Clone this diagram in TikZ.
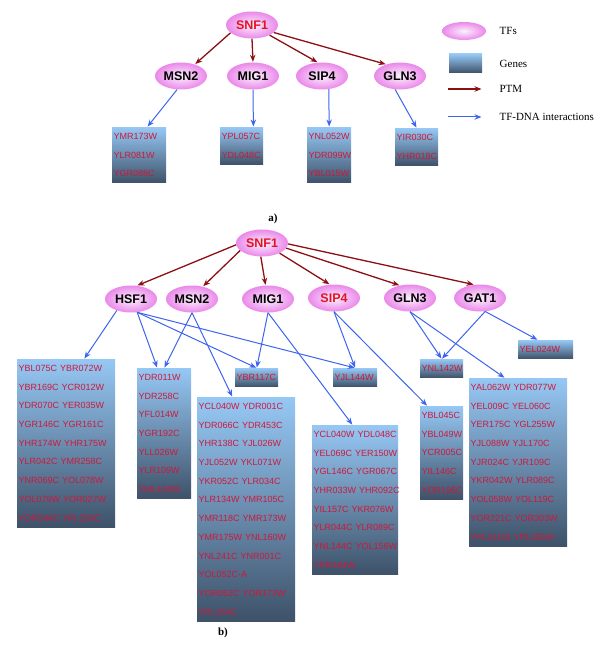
\documentclass[tikz,border=0pt]{standalone}
\usepackage{fontspec}
\setmainfont{Liberation Serif}
\setsansfont{Liberation Sans}
\usetikzlibrary{arrows.meta,positioning,shapes.geometric}

\definecolor{tfpink}{RGB}{234,136,234}
\definecolor{tfred}{RGB}{225,20,35}
\definecolor{genered}{RGB}{205,25,60}
\definecolor{genetop}{RGB}{150,200,245}
\definecolor{genebot}{RGB}{62,82,105}
\definecolor{ptmred}{RGB}{140,15,20}
\definecolor{dnablue}{RGB}{60,100,240}

\tikzset{
  tf/.style={ellipse,minimum width=52pt,minimum height=27pt,inner sep=0pt,
    shading=radial,inner color=tfpink!12!white,outer color=tfpink,
    font=\sffamily\bfseries\fontsize{12.5}{14}\selectfont},
  genes/.style={rectangle,anchor=north west,top color=genetop,bottom color=genebot,
    inner xsep=1.5pt,inner ysep=6pt,align=left,text=genered,
    font=\sffamily\fontsize{9}{18.7}\selectfont},
  ptm/.style={draw=ptmred,line width=1.3pt},
  tfdna/.style={draw=dnablue,line width=1pt},
  legtext/.style={anchor=west,font=\fontsize{11}{13}\selectfont},
  panel/.style={font=\bfseries\fontsize{11}{13}\selectfont}
}

\begin{document}
\begin{tikzpicture}[x=1pt,y=-1pt,->,>={Stealth[length=7pt,width=5.5pt]},shorten >=0.5pt]
  \useasboundingbox (0,0) rectangle (600,652);

  % a)
  \node[tf,text=tfred] (snfA) at (252,25) {SNF1};
  \node[tf] (msn2A) at (181,76) {MSN2};
  \node[tf] (mig1A) at (253,76) {MIG1};
  \node[tf] (sip4A) at (322,76) {SIP4};
  \node[tf] (gln3A) at (400,76) {GLN3};

  \node[genes,text width=51pt] (gMsn2A) at (112,127) {YMR173W\\YLR081W\\YGR088C};
  \node[genes,text width=40pt] (gMig1A) at (220,127) {YPL057C\\YDL048C};
  \node[genes,text width=41pt] (gSip4A) at (307,127) {YNL052W\\YDR099W\\YBL015W};
  \node[genes,text width=40pt] (gGln3A) at (395,128) {YIR030C\\YHR018C};

  \draw[ptm] (snfA.200) -- (msn2A.40);
  \draw[ptm] (snfA.south) -- (mig1A.north);
  \draw[ptm] (snfA.330) -- (sip4A.107);
  \draw[ptm] (snfA.341) -- (gln3A.140);

  \draw[tfdna] (msn2A.254) -- (gMsn2A.74);
  \draw[tfdna] (mig1A.south) -- (gMig1A.58);
  \draw[tfdna] (sip4A.297) -- (gSip4A.north);
  \draw[tfdna] (gln3A.250) -- (gGln3A.north);

  % legend
  \node[tf,minimum width=44pt,minimum height=18pt] (legTF) at (464,31) {};
  \node[legtext,right=10pt of legTF] (legTFtext) {TFs};
  \node[genes,anchor=center,minimum width=33pt,minimum height=19pt,inner sep=0pt] (legGenes) at (465.5,63.5) {};
  \node[legtext,right=14pt of legGenes] (legGenestext) {Genes};
  \node[legtext] (legPtm) at (496,89) {PTM};
  \node[legtext] (legDna) at (496,117) {TF-DNA interactions};
  \coordinate (legPtmS) at (448,89);
  \coordinate (legPtmE) at (482,89);
  \coordinate (legDnaS) at (448,117);
  \coordinate (legDnaE) at (482,117);
  \draw[ptm] (legPtmS) -- (legPtmE);
  \draw[tfdna] (legDnaS) -- (legDnaE);

  \node[panel] (labA) at (273,219) {a)};

  % b)
  \node[tf,text=tfred] (snfB) at (262,243) {SNF1};
  \node[tf] (hsf1B) at (131,299) {HSF1};
  \node[tf] (msn2B) at (192,299) {MSN2};
  \node[tf] (mig1B) at (268,299) {MIG1};
  \node[tf,text=tfred] (sip4B) at (334,298) {SIP4};
  \node[tf] (gln3B) at (410,298) {GLN3};
  \node[tf] (gat1B) at (480,298) {GAT1};

  \node[genes,text width=95pt] (gHsf) at (17,359) {YBL075C~YBR072W\\YBR169C~YCR012W\\YDR070C~YER035W\\YGR146C~YGR161C\\YHR174W~YHR175W\\YLR042C~YMR258C\\YNR069C~YOL078W\\YOL079W~YOR027W\\YOR344C~YPL250C};
  \node[genes,text width=51pt] (gYdr011) at (137,368) {YDR011W\\YDR258C\\YFL014W\\YGR192C\\YLL026W\\YLR109W\\YML100W};
  \node[genes,text width=40pt] (gYbr117) at (235,368) {YBR117C};
  \node[genes,text width=95pt] (gYcl040a) at (197,397) {YCL040W~YDR001C\\YDR066C~YDR453C\\YHR138C~YJL026W\\YJL052W~YKL071W\\YKR052C~YLR034C\\YLR134W~YMR105C\\YMR118C~YMR173W\\YMR175W~YNL160W\\YNL241C~YNR001C\\YOL052C-A\\YOR052C~YOR173W\\YPL154C};
  \node[genes,text width=41pt] (gYjl144) at (333,368) {YJL144W};
  \node[genes,text width=83pt] (gYcl040b) at (312,425) {YCL040W~YDL048C\\YEL069C~YER150W\\YGL146C~YGR067C\\YHR033W~YHR092C\\YIL157C~YKR076W\\YLR044C~YLR089C\\YNL144C~YOL156W\\YPR184W};
  \node[genes,text width=40pt] (gYnl142) at (420,359) {YNL142W};
  \node[genes,text width=52pt] (gYel024) at (518,340) {YEL024W};
  \node[genes,text width=40pt] (gYbl045) at (420,406) {YBL045C\\YBL049W\\YCR005C\\YIL146C\\YOR196C};
  \node[genes,text width=95pt] (gYal062) at (469,378) {YAL062W~YDR077W\\YEL009C~YEL060C\\YER175C~YGL255W\\YJL088W~YJL170C\\YJR024C~YJR109C\\YKR042W~YLR089C\\YOL058W~YOL119C\\YOR221C~YOR303W\\YPL211W~YPL265W};

  \draw[ptm] (snfB.184) -- (hsf1B.66);
  \draw[ptm] (snfB.199) -- (msn2B.49);
  \draw[ptm] (snfB.265) -- (mig1B.100);
  \draw[ptm] (snfB.330) -- (sip4B.107);
  \draw[ptm] (snfB.348) -- (gln3B.129);
  \draw[ptm] (snfB.358) -- (gat1B.114);

  \draw[tfdna] (hsf1B.219) -- (gHsf.78);
  \draw[tfdna] (hsf1B.295) -- (gYdr011.96);
  \draw[tfdna] (hsf1B.295) -- (gYbr117.north);
  \draw[tfdna] (hsf1B.295) -- (gYjl144.north);
  \draw[tfdna] (msn2B.south) -- (gYdr011.north);
  \draw[tfdna] (msn2B.south) -- (gYcl040a.97);
  \draw[tfdna] (mig1B.south) -- (gYbr117.north);
  \draw[tfdna] (mig1B.south) -- (gYcl040b.92);
  \draw[tfdna] (sip4B.south) -- (gYjl144.north);
  \draw[tfdna] (sip4B.south) -- (gYbl045.107);
  \draw[tfdna] (gln3B.south) -- (gYnl142.north);
  \draw[tfdna] (gln3B.south) -- (gYal062.99);
  \draw[tfdna] (gat1B.291) -- (gYnl142.north);
  \draw[tfdna] (gat1B.291) -- (gYel024.130);

  \node[panel] (labB) at (223,633) {b)};
\end{tikzpicture}
\end{document}
